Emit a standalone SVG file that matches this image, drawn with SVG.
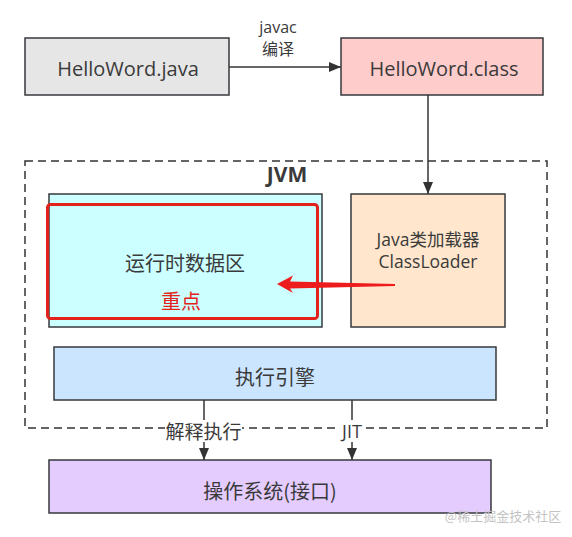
<svg xmlns="http://www.w3.org/2000/svg" width="572" height="537" viewBox="0 0 572 537">
<style>
.box{stroke:#36393d;stroke-width:1.5}
.t{font-family:"Open Sans","Noto Sans CJK SC",sans-serif;fill:#3a3a3a;text-anchor:middle}
.cn{font-family:"Noto Sans CJK SC","Open Sans",sans-serif;fill:#3a3a3a;text-anchor:middle}
.ln{stroke:#333;stroke-width:1.5;fill:none}
</style>
<defs>
<marker id="ah" markerWidth="12" markerHeight="10" refX="12" refY="5" orient="auto" markerUnits="userSpaceOnUse">
<path d="M0,0 L12,5 L0,10 Z" fill="#333"/>
</marker>
</defs>
<rect width="572" height="537" fill="#fff"/>
<g id="jvm">
<rect x="25" y="161" width="522" height="267" fill="none" stroke="#333" stroke-width="1.5" stroke-dasharray="8,5"/>
<text class="t" x="287" y="182" font-size="21" font-weight="bold">JVM</text>
</g>
<g id="java">
<rect class="box" x="25" y="38" width="204" height="57" fill="#e6e6e6"/>
<text class="t" x="128" y="76" font-size="20">HelloWord.java</text>
</g>
<g id="class">
<rect class="box" x="341" y="38" width="202" height="57" fill="#ffcccc"/>
<text class="t" x="444" y="76" font-size="20">HelloWord.class</text>
</g>
<g id="runtime">
<rect class="box" x="49" y="194" width="273" height="133" fill="#ccffff"/>
<rect x="47.5" y="204.5" width="270" height="114" rx="3" fill="none" stroke="#e3231b" stroke-width="3"/>
<text class="cn" x="185" y="271" font-size="20">运行时数据区</text>
<text class="cn" x="181" y="309" font-size="20" style="fill:#e3231b">重点</text>
</g>
<g id="loader">
<rect class="box" x="351" y="194" width="154" height="133" fill="#ffe6cc"/>
<text class="t" x="428" y="246" font-size="17.5">Java类加载器</text>
<text class="t" x="428" y="268" font-size="17.5">ClassLoader</text>
</g>
<g id="engine">
<rect class="box" x="54" y="347" width="442" height="53" fill="#cce5ff"/>
<text class="cn" x="275" y="385" font-size="20">执行引擎</text>
</g>
<g id="os">
<rect class="box" x="49" y="460" width="442" height="53" fill="#e5ccff"/>
<text class="cn" x="270" y="499" font-size="20">操作系统(接口)</text>
</g>
<g id="connectors">
<line class="ln" x1="229" y1="67" x2="341" y2="67" marker-end="url(#ah)"/>
<text class="t" x="278" y="33" font-size="16">javac</text>
<text class="cn" x="278" y="55" font-size="16">编译</text>
<line class="ln" x1="428" y1="95" x2="428" y2="194" marker-end="url(#ah)"/>
<line class="ln" x1="204" y1="400" x2="204" y2="460" marker-end="url(#ah)"/>
<line class="ln" x1="352" y1="400" x2="352" y2="460" marker-end="url(#ah)"/>
<rect x="165" y="420" width="77" height="22" fill="#fff"/>
<text class="cn" x="203.5" y="439" font-size="19">解释执行</text>
<rect x="339" y="420" width="26" height="22" fill="#fff"/>
<text class="t" x="352" y="438" font-size="18">JIT</text>
<polygon points="277,284 293,275.5 290,281.5 395,284 395,286 290,288.5 293,293 " fill="#ee1d1d"/>
</g>
<text x="503" y="521" font-family="Noto Sans CJK SC,sans-serif" font-size="13" fill="#c4c4c4" text-anchor="middle">@稀土掘金技术社区</text>
</svg>
